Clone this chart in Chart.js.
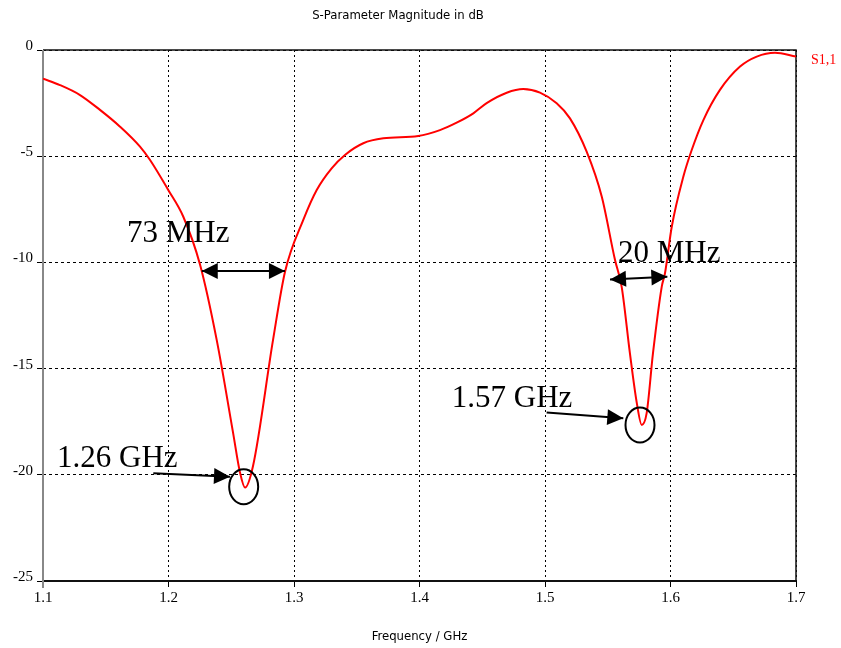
<!DOCTYPE html>
<html>
<head>
<meta charset="utf-8">
<script src="https://cdn.jsdelivr.net/npm/chart.js@4.4.0/dist/chart.umd.min.js"></script>
<style>
  html, body { margin: 0; padding: 0; background: #fff; }
  #wrap { width: 841px; height: 648px; }
</style>
</head>
<body>
<div id="wrap"><canvas id="myChart"></canvas></div>
<script>
// frequency in GHz, |S11| in dB
const freqs = [1.100, 1.1135, 1.1295, 1.1454, 1.1614, 1.1773, 1.1853, 1.1998, 1.2118, 1.2251,
  1.2384, 1.2514, 1.2570, 1.2610, 1.2673, 1.2833, 1.2928, 1.3074, 1.3181, 1.3300,
  1.3406, 1.3552, 1.3712, 1.3990, 1.4163, 1.4296, 1.4429, 1.4535, 1.4695, 1.4827,
  1.4960, 1.5093, 1.5199, 1.5332, 1.5452, 1.5558, 1.5611, 1.5677, 1.5731, 1.5771,
  1.5810, 1.5860, 1.5930, 1.5956, 1.6010, 1.6102, 1.6169, 1.6262, 1.6394, 1.6554,
  1.6687, 1.6833, 1.7000];
const s11 = [-1.35, -1.65, -2.12, -2.82, -3.61, -4.55, -5.18, -6.59, -7.85, -10.1,
  -13.65, -18.0, -19.9, -20.6, -19.6, -13.65, -10.45, -8.0, -6.59, -5.57,
  -4.94, -4.39, -4.16, -4.05, -3.77, -3.42, -2.98, -2.5, -2.01, -1.84,
  -2.01, -2.51, -3.22, -4.79, -6.9, -9.89, -11.15, -14.3, -16.6, -17.65,
  -17.1, -14.3, -11.15, -10.51, -8.32, -5.97, -4.71, -3.3, -1.88, -0.78,
  -0.31, -0.13, -0.31];
const xTickValues = [1.1, 1.2, 1.3, 1.4, 1.5, 1.6, 1.7];
const yTickValues = [0, -5, -10, -15, -20, -25];
const seriesName = 'S1,1';

// hand-drawn notes on the picture, in data units
const notes = [
  { text: '73 MHz', x: 1.1669, y: -9.04 },
  { text: '20 MHz', x: 1.5582, y: -9.97 },
  { text: '1.26 GHz', x: 1.1112, y: -19.63 },
  { text: '1.57 GHz', x: 1.4257, y: -16.79 }
];
const arrows = [
  { x1: 1.2265, y1: -10.4, x2: 1.2928, y2: -10.4, both: true },
  { x1: 1.5518, y1: -10.8, x2: 1.5975, y2: -10.68, both: true },
  { x1: 1.1879, y1: -19.93, x2: 1.2490, y2: -20.09, both: false },
  { x1: 1.5013, y1: -17.07, x2: 1.5624, y2: -17.34, both: false }
];
const rings = [
  { x: 1.2599, y: -20.56 },
  { x: 1.5757, y: -17.66 }
];

const points = freqs.map((f, i) => ({ x: f, y: s11[i] }));

function head(ctx, fx, fy, tx, ty) {
  const ang = Math.atan2(ty - fy, tx - fx);
  const len = 16, w = 8;
  ctx.beginPath();
  ctx.moveTo(tx, ty);
  ctx.lineTo(tx - len * Math.cos(ang) + w * Math.sin(ang), ty - len * Math.sin(ang) - w * Math.cos(ang));
  ctx.lineTo(tx - len * Math.cos(ang) - w * Math.sin(ang), ty - len * Math.sin(ang) + w * Math.cos(ang));
  ctx.closePath();
  ctx.fill();
}

const frame = {
  id: 'frame',
  beforeDatasetsDraw(chart) {
    const { ctx, chartArea: a } = chart;
    ctx.save();
    ctx.setLineDash([]);
    ctx.strokeStyle = '#111';
    ctx.lineWidth = 1.5;
    ctx.beginPath();
    ctx.moveTo(a.left, a.top); ctx.lineTo(a.right, a.top); ctx.lineTo(a.right, a.bottom);
    ctx.stroke();
    ctx.lineWidth = 2;
    ctx.beginPath();
    ctx.moveTo(a.left, a.bottom); ctx.lineTo(a.right, a.bottom);
    ctx.stroke();
    ctx.strokeStyle = '#888';
    ctx.beginPath();
    ctx.moveTo(a.left, a.top); ctx.lineTo(a.left, a.bottom + 7);
    ctx.stroke();
    ctx.restore();
  },
  afterDraw(chart) {
    const { ctx, chartArea: a, scales: { x, y } } = chart;
    ctx.save();
    // series name at the right edge
    ctx.fillStyle = '#ff0000';
    ctx.font = '14px "Liberation Serif"';
    ctx.textBaseline = 'middle';
    ctx.fillText(seriesName, a.right + 15, a.top + 10);

    ctx.fillStyle = '#000';
    ctx.strokeStyle = '#000';
    ctx.font = '31px "Liberation Serif"';
    ctx.textBaseline = 'alphabetic';
    notes.forEach(n => ctx.fillText(n.text, x.getPixelForValue(n.x), y.getPixelForValue(n.y)));

    ctx.lineWidth = 2;
    arrows.forEach(r => {
      const x1 = x.getPixelForValue(r.x1), y1 = y.getPixelForValue(r.y1);
      const x2 = x.getPixelForValue(r.x2), y2 = y.getPixelForValue(r.y2);
      ctx.beginPath();
      ctx.moveTo(x1, y1); ctx.lineTo(x2, y2);
      ctx.stroke();
      head(ctx, x1, y1, x2, y2);
      if (r.both) head(ctx, x2, y2, x1, y1);
    });

    rings.forEach(c => {
      ctx.beginPath();
      ctx.ellipse(x.getPixelForValue(c.x), y.getPixelForValue(c.y), 14.5, 17.5, 0, 0, Math.PI * 2);
      ctx.stroke();
    });
    ctx.restore();
  }
};

const ctx = document.getElementById('myChart').getContext('2d');
const myChart = new Chart(ctx, {
  type: 'line',
  data: {
    datasets: [{
      label: seriesName,
      data: points,
      borderColor: '#ff0000',
      borderWidth: 2,
      pointRadius: 0,
      cubicInterpolationMode: 'monotone',
      fill: false
    }]
  },
  options: {
    responsive: true,
    maintainAspectRatio: false,
    animation: false,
    layout: { padding: { left: 0, right: 45, top: 0, bottom: 0 } },
    plugins: {
      legend: { display: false },
      tooltip: { enabled: false },
      title: {
        display: true,
        text: 'S-Parameter Magnitude in dB',
        color: '#000',
        font: { family: '"DejaVu Sans Condensed"', size: 13, weight: 'normal' },
        padding: { top: 8, bottom: 26.4 }
      }
    },
    scales: {
      x: {
        type: 'linear',
        min: 1.1,
        max: 1.7,
        afterBuildTicks: s => { s.ticks = xTickValues.map(v => ({ value: v })); },
        afterFit: s => { s.height = 67; },
        grid: { color: '#000', lineWidth: 1, tickLength: 6 },
        border: { display: false, dash: [2, 3] },
        ticks: {
          color: '#000',
          padding: 2,
          maxRotation: 0,
          font: { family: '"Liberation Serif"', size: 15 },
          callback: v => v.toFixed(1)
        },
        title: {
          display: true,
          text: 'Frequency / GHz',
          color: '#000',
          font: { family: '"DejaVu Sans Condensed"', size: 13 },
          padding: { top: 4, bottom: 4 }
        }
      },
      y: {
        type: 'linear',
        min: -25,
        max: 0,
        afterBuildTicks: s => { s.ticks = yTickValues.map(v => ({ value: v })); },
        afterFit: s => { s.width = 43; },
        grid: { color: '#000', lineWidth: 1, tickLength: 6 },
        border: { display: false, dash: [3, 3] },
        ticks: {
          color: '#000',
          padding: 4,
          labelOffset: -4,
          font: { family: '"Liberation Serif"', size: 15 }
        }
      }
    }
  },
  plugins: [frame]
});
</script>
</body>
</html>
